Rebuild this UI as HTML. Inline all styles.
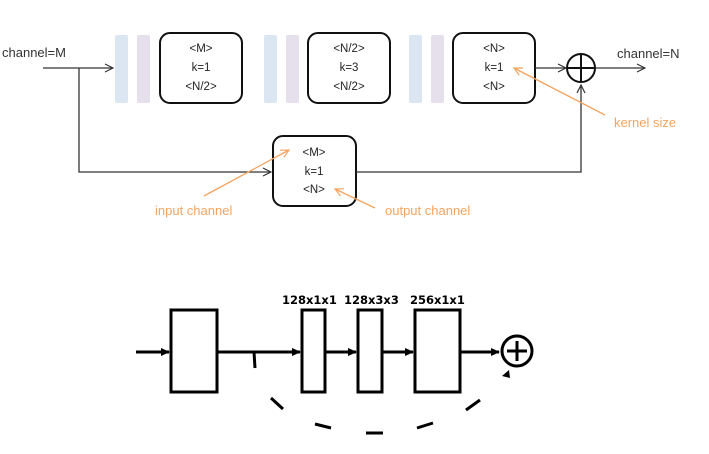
<!DOCTYPE html>
<html><head><style>body{margin:0;background:#fff}</style></head><body>
<svg width="709" height="449" xmlns="http://www.w3.org/2000/svg" font-family="Liberation Sans, sans-serif">
<defs>
<marker id="a" markerWidth="10" markerHeight="10" refX="9" refY="5" orient="auto" markerUnits="userSpaceOnUse"><path d="M1,1 L9,5 L1,9" fill="none" stroke="#333" stroke-width="1.2"/></marker>
<marker id="o" markerWidth="10" markerHeight="10" refX="9" refY="5" orient="auto" markerUnits="userSpaceOnUse"><path d="M1,1 L9,5 L1,9" fill="none" stroke="#f4a460" stroke-width="1.2"/></marker>
<marker id="b" markerWidth="10" markerHeight="10" refX="8" refY="5" orient="auto" markerUnits="userSpaceOnUse"><path d="M0,1 L9,5 L0,9 Z" fill="#000"/></marker>
</defs>
<g fill="#dce6f2"><rect x="115" y="35" width="13" height="68" rx="2"/><rect x="264" y="35" width="13" height="68" rx="2"/><rect x="409" y="35" width="13" height="68" rx="2"/></g>
<g fill="#e6e0ec"><rect x="137" y="35" width="13" height="68" rx="2"/><rect x="286" y="35" width="13" height="68" rx="2"/><rect x="431" y="35" width="13" height="68" rx="2"/></g>
<g fill="#fff" stroke="#111" stroke-width="2">
<rect x="160" y="33" width="82" height="70" rx="10"/><rect x="308" y="33" width="82" height="70" rx="10"/><rect x="453" y="33" width="82" height="70" rx="10"/><rect x="273" y="136" width="83" height="70" rx="10"/>
</g>
<g font-size="11.5" fill="#222" text-anchor="middle">
<text x="201" y="52">&lt;M&gt;</text><text x="201" y="71">k=1</text><text x="201" y="90">&lt;N/2&gt;</text>
<text x="349" y="52">&lt;N/2&gt;</text><text x="349" y="71">k=3</text><text x="349" y="90">&lt;N/2&gt;</text>
<text x="494" y="52">&lt;N&gt;</text><text x="494" y="71">k=1</text><text x="494" y="90">&lt;N&gt;</text>
<text x="314" y="156">&lt;M&gt;</text><text x="314" y="175">k=1</text><text x="314" y="193">&lt;N&gt;</text>
</g>
<g stroke="#333" stroke-width="1.3" fill="none">
<line x1="43" y1="68" x2="113" y2="68" marker-end="url(#a)"/>
<polyline points="79,68 79,172 271,172" marker-end="url(#a)"/>
<polyline points="356,172 581,172 581,85" marker-end="url(#a)"/>
<line x1="535" y1="68" x2="566" y2="68" marker-end="url(#a)"/>
<line x1="595" y1="68" x2="645" y2="68" marker-end="url(#a)"/>
</g>
<circle cx="581" cy="68" r="14" fill="none" stroke="#111" stroke-width="2"/>
<line x1="567" y1="68" x2="595" y2="68" stroke="#111" stroke-width="2"/><line x1="581" y1="54" x2="581" y2="82" stroke="#111" stroke-width="2"/>
<text x="2" y="57" font-size="13" fill="#333">channel=M</text>
<text x="617" y="58" font-size="13" fill="#333">channel=N</text>
<g stroke="#f4a460" stroke-width="1.3" fill="none">
<line x1="204" y1="196" x2="289" y2="150" marker-end="url(#o)"/>
<line x1="375" y1="208" x2="335" y2="189" marker-end="url(#o)"/>
<line x1="605" y1="115" x2="514" y2="68" marker-end="url(#o)"/>
</g>
<g font-size="13" fill="#f4a460"><text x="155" y="215">input channel</text><text x="385" y="215">output channel</text><text x="614" y="127">kernel size</text></g>
<g stroke="#000" stroke-width="3" fill="#fff">
<line x1="136" y1="352" x2="169" y2="352" marker-end="url(#b)"/>
<line x1="217" y1="352" x2="300" y2="352" marker-end="url(#b)"/>
<line x1="325" y1="352" x2="356" y2="352" marker-end="url(#b)"/>
<line x1="382" y1="352" x2="413" y2="352" marker-end="url(#b)"/>
<line x1="460" y1="352" x2="499" y2="352" marker-end="url(#b)"/>
<rect x="171" y="310" width="46" height="82"/><rect x="302" y="310" width="23" height="82"/><rect x="358" y="310" width="24" height="82"/><rect x="415" y="310" width="45" height="82"/>
<circle cx="517" cy="351" r="15"/>
<line x1="507" y1="351" x2="527" y2="351"/><line x1="517" y1="341" x2="517" y2="361"/>
<line x1="254" y1="352" x2="255" y2="368"/>
<line x1="271" y1="398" x2="283" y2="409"/>
<line x1="315" y1="424" x2="331" y2="428"/>
<line x1="366" y1="433" x2="383" y2="433"/>
<line x1="417" y1="428" x2="433" y2="423"/>
<line x1="466" y1="410" x2="480" y2="400"/>
</g>
<path d="M502,376 L509,370 L510,378 Z" fill="#000"/>
<g font-size="11.5" font-weight="bold" fill="#000" font-family="DejaVu Sans, sans-serif"><text x="282" y="304">128x1x1</text><text x="344" y="304">128x3x3</text><text x="410" y="304">256x1x1</text></g>
</svg>
</body></html>
